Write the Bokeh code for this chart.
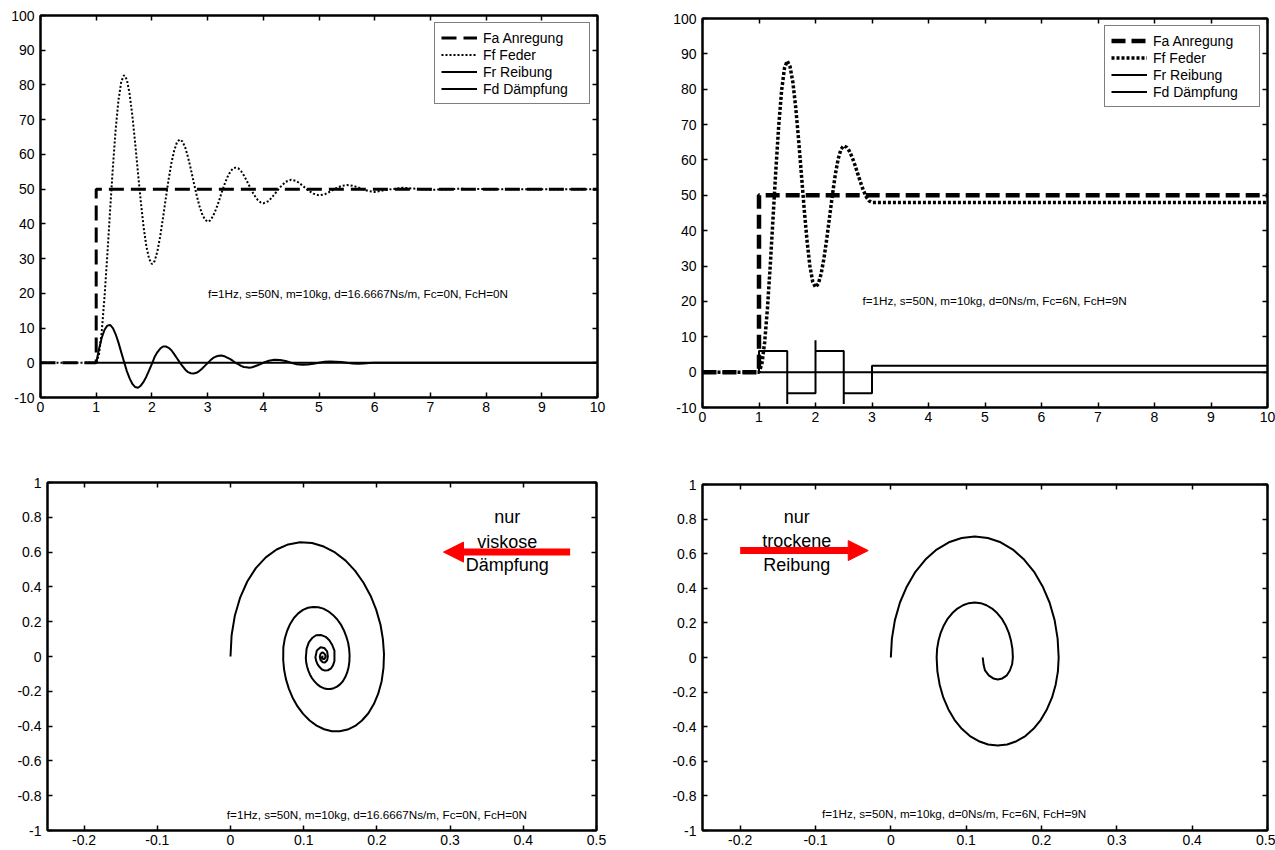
from bokeh.plotting import figure
from bokeh.layouts import column, row
from bokeh.models import (Range1d, FixedTicker, LinearAxis, Legend, LegendItem,
                          Label, Arrow, NormalHead, CustomJSTickFormatter)
from bokeh.embed import file_html
from bokeh.resources import INLINE

FONT = "Liberation Sans"

# ---------------- data: top-left (viscous damping) ----------------
tl_time = [0.0,
           1.00, 1.05, 1.10, 1.15, 1.20, 1.25, 1.30, 1.35, 1.40, 1.45, 1.50, 1.55, 1.60, 1.65, 1.70, 1.75, 1.80, 1.85, 1.90, 1.95,
           2.00, 2.05, 2.10, 2.15, 2.20, 2.25, 2.30, 2.35, 2.40, 2.45, 2.50, 2.55, 2.60, 2.65, 2.70, 2.75, 2.80, 2.85, 2.90, 2.95,
           3.00, 3.05, 3.10, 3.15, 3.20, 3.25, 3.30, 3.35, 3.40, 3.45, 3.50, 3.55, 3.60, 3.65, 3.70, 3.75, 3.80, 3.85, 3.90, 3.95,
           4.00, 4.1, 4.2, 4.3, 4.4, 4.5, 4.6, 4.7, 4.8, 4.9, 5.0, 5.1, 5.2, 5.3, 5.4, 5.5, 5.6, 5.7, 5.8, 5.9, 6.0,
           6.25, 6.5, 6.75, 7.0, 7.5, 8.0, 10.0]
tl_ff = [0.0,
         0.0, 2.4, 9.0, 19.1, 31.1, 44.0, 56.4, 67.3, 75.6, 81.0, 82.8, 81.6, 77.4, 71.0, 63.2, 54.7, 46.5, 39.2, 33.6, 29.9,
         28.4, 29.3, 32.2, 36.5, 41.8, 47.4, 52.8, 57.5, 61.1, 63.5, 64.3, 63.7, 61.9, 59.1, 55.7, 52.0, 48.5, 45.3, 42.9, 41.3,
         40.6, 41.0, 42.3, 44.2, 46.4, 48.9, 51.2, 53.3, 54.8, 55.9, 56.2, 56.0, 55.2, 54.0, 52.5, 50.9, 49.3, 48.0, 46.9, 46.2,
         45.9, 46.6, 48.5, 50.5, 52.1, 52.7, 52.3, 51.1, 49.7, 48.7, 48.2, 48.5, 49.3, 50.2, 50.9, 51.2, 51.0, 50.5, 49.9, 49.4, 49.2,
         49.9, 50.4, 50.1, 49.8, 50.1, 50.0, 50.0]
tl_fd = [0.0,
         0.0, 3.9, 7.2, 9.5, 10.7, 10.9, 10.0, 8.2, 5.8, 3.0, 0.3, -2.4, -4.5, -6.1, -7.0, -7.2, -6.6, -5.5, -4.0, -2.2,
         -0.3, 1.7, 3.1, 4.1, 4.7, 4.7, 4.3, 3.6, 2.5, 1.3, 0.1, -1.0, -2.0, -2.7, -3.0, -3.1, -2.9, -2.4, -1.7, -0.9,
         -0.1, 0.7, 1.4, 1.8, 2.0, 2.1, 1.9, 1.5, 1.1, 0.6, 0.0, -0.4, -0.9, -1.2, -1.3, -1.4, -1.3, -1.0, -0.7, -0.4,
         0.0, 0.6, 0.9, 0.8, 0.5, 0.0, -0.4, -0.6, -0.5, -0.3, 0.0, 0.3, 0.4, 0.3, 0.2, 0.0, -0.2, -0.3, -0.2, -0.1, 0.0,
         0.0, 0.0, 0.0, 0.0, 0.0, 0.0, 0.0]
tl_fa_time = [0, 1, 1, 10]
tl_fa = [0, 0, 50, 50]
tl_fr_time = [1, 10]
tl_fr = [0, 0]

# ---------------- data: top-right (dry friction) ----------------
tr_time = [0.0,
           1.00, 1.05, 1.10, 1.15, 1.20, 1.25, 1.30, 1.35, 1.40, 1.45, 1.50,
           1.55, 1.60, 1.65, 1.70, 1.75, 1.80, 1.85, 1.90, 1.95, 2.00,
           2.05, 2.10, 2.15, 2.20, 2.25, 2.30, 2.35, 2.40, 2.45, 2.50,
           2.55, 2.60, 2.65, 2.70, 2.75, 2.80, 2.85, 2.90, 2.95, 3.00,
           10.0]
tr_ff = [0.0,
         0.0, 2.2, 8.4, 18.1, 30.4, 44.0, 57.6, 69.9, 79.6, 85.9, 88.0,
         86.4, 81.9, 74.8, 65.9, 56.0, 46.1, 37.2, 30.1, 25.6, 24.0,
         25.0, 27.8, 32.2, 37.8, 44.0, 50.2, 55.8, 60.2, 63.0, 64.0,
         63.6, 62.5, 60.7, 58.5, 56.0, 53.5, 51.3, 49.5, 48.4, 48.0,
         48.0]
tr_fa_time = [0, 1, 1, 10]
tr_fa = [0, 0, 50, 50]
tr_fr_time = [1, 1, 1.5, 1.5, 1.5, 2.0, 2.0, 2.0, 2.5, 2.5, 2.5, 3.0, 3.0, 10]
tr_fr = [0, 6, 6, -9, -6, -6, 9, 6, 6, -9, -6, -6, 1.8, 1.8]
tr_fd_time = [1, 10]
tr_fd = [0, 0]

# ---------------- data: phase portraits (position, velocity) ----------------
bl_x = [0.0000, 0.0015, 0.0060, 0.0133, 0.0229, 0.0346, 0.0482, 0.0630, 0.0788, 0.0950, 0.1114, 0.1274, 0.1428, 0.1573,
        0.1703, 0.1817, 0.1915, 0.1991, 0.2050, 0.2082, 0.2097, 0.2090, 0.2065, 0.2018, 0.1960, 0.1884, 0.1796, 0.1703,
        0.1600, 0.1493, 0.1385, 0.1279, 0.1176, 0.1081, 0.0992, 0.0916, 0.0850, 0.0798, 0.0757, 0.0732, 0.0720,
        0.0722, 0.0742, 0.0774, 0.0815, 0.0866, 0.0925, 0.0990, 0.1058, 0.1129, 0.1200, 0.1269, 0.1336, 0.1399, 0.1456,
        0.1506, 0.1548, 0.1581, 0.1607, 0.1621, 0.1627, 0.1624, 0.1613, 0.1593, 0.1568, 0.1535, 0.1496, 0.1456, 0.1411,
        0.1365, 0.1318, 0.1272, 0.1227, 0.1186, 0.1147, 0.1114, 0.1085, 0.1063, 0.1045, 0.1034, 0.1029,
        0.104, 0.107, 0.112, 0.117, 0.124, 0.130, 0.135, 0.139, 0.142, 0.142, 0.142, 0.140, 0.137, 0.133, 0.129, 0.125,
        0.122, 0.119, 0.117, 0.116,
        0.118, 0.123, 0.128, 0.132, 0.133, 0.132, 0.129, 0.126, 0.123, 0.122,
        0.123, 0.125, 0.127, 0.129, 0.130, 0.129, 0.128, 0.126, 0.125, 0.125,
        0.127]
bl_v = [0.000, 0.122, 0.236, 0.340, 0.431, 0.508, 0.570, 0.615, 0.644, 0.656, 0.652, 0.632, 0.598, 0.551,
        0.492, 0.424, 0.348, 0.268, 0.181, 0.099, 0.015, -0.066, -0.142, -0.214, -0.272, -0.326, -0.368, -0.399,
        -0.420, -0.430, -0.430, -0.418, -0.397, -0.368, -0.330, -0.287, -0.238, -0.186, -0.130, -0.075, -0.020,
        0.053, 0.103, 0.148, 0.187, 0.221, 0.248, 0.268, 0.280, 0.285, 0.283, 0.275, 0.260, 0.239, 0.214,
        0.185, 0.151, 0.116, 0.079, 0.043, 0.007, -0.029, -0.062, -0.093, -0.118, -0.142, -0.160, -0.173, -0.182,
        -0.187, -0.187, -0.182, -0.173, -0.160, -0.143, -0.125, -0.103, -0.081, -0.056, -0.033, -0.008,
        0.045, 0.081, 0.108, 0.122, 0.123, 0.113, 0.093, 0.066, 0.034, 0.003, -0.027, -0.051, -0.070, -0.079, -0.081, -0.075,
        -0.062, -0.045, -0.025, -0.004,
        0.035, 0.053, 0.049, 0.029, 0.001, -0.022, -0.034, -0.033, -0.020, -0.002,
        0.015, 0.023, 0.021, 0.012, 0.001, -0.010, -0.015, -0.014, -0.008, -0.001,
        0.000]
br_x = [0.0000, 0.0014, 0.0054, 0.0121, 0.0213, 0.0326, 0.0459, 0.0608, 0.0770, 0.0940, 0.1114, 0.1288, 0.1458, 0.1620,
        0.1769, 0.1902, 0.2015, 0.2107, 0.2174, 0.2214, 0.2228,
        0.2218, 0.2188, 0.2140, 0.2073, 0.1991, 0.1894, 0.1786, 0.1668, 0.1545, 0.1418, 0.1291, 0.1168, 0.1050, 0.0942,
        0.0845, 0.0763, 0.0696, 0.0648, 0.0618, 0.0608,
        0.0614, 0.0633, 0.0663, 0.0705, 0.0756, 0.0817, 0.0884, 0.0958, 0.1035, 0.1114, 0.1193, 0.1270, 0.1344, 0.1411,
        0.1472, 0.1523, 0.1565, 0.1595, 0.1614, 0.1620,
        0.161, 0.158, 0.154, 0.148, 0.142, 0.136, 0.130, 0.125, 0.123, 0.122]
br_v = [0.000, 0.109, 0.216, 0.318, 0.411, 0.495, 0.566, 0.624, 0.666, 0.691, 0.700, 0.691, 0.666, 0.624,
        0.566, 0.495, 0.411, 0.318, 0.216, 0.109, 0.000,
        -0.080, -0.157, -0.231, -0.299, -0.360, -0.412, -0.454, -0.484, -0.503, -0.509, -0.503, -0.484, -0.454, -0.412,
        -0.360, -0.299, -0.231, -0.157, -0.080, 0.000,
        0.050, 0.098, 0.144, 0.187, 0.225, 0.257, 0.283, 0.302, 0.314, 0.318, 0.314, 0.302, 0.283, 0.257,
        0.225, 0.187, 0.144, 0.098, 0.050, 0.000,
        -0.039, -0.075, -0.103, -0.121, -0.127, -0.121, -0.103, -0.075, -0.039, 0.000]

time_ticks = [0, 1, 2, 3, 4, 5, 6, 7, 8, 9, 10]
force_ticks = [-10, 0, 10, 20, 30, 40, 50, 60, 70, 80, 90, 100]
pos_ticks = [-0.2, -0.1, 0, 0.1, 0.2, 0.3, 0.4, 0.5]
vel_ticks = [-1, -0.8, -0.6, -0.4, -0.2, 0, 0.2, 0.4, 0.6, 0.8, 1]

legend_labels = ["Fa Anregung", "Ff Feder", "Fr Reibung", "Fd Dämpfung"]
param_visc = "f=1Hz, s=50N, m=10kg, d=16.6667Ns/m, Fc=0N, FcH=0N"
param_dry = "f=1Hz, s=50N, m=10kg, d=0Ns/m, Fc=6N, FcH=9N"


def make_fig(width, height, xr, yr, xticks, yticks, bl, br, bt, bb):
    p = figure(width=width, height=height, x_range=Range1d(*xr), y_range=Range1d(*yr),
               output_backend="svg", toolbar_location=None, tools="",
               min_border_left=bl, min_border_right=br, min_border_top=bt, min_border_bottom=bb)
    p.xgrid.visible = False
    p.ygrid.visible = False
    p.outline_line_color = "black"
    p.outline_line_width = 2
    p.outline_line_alpha = 1
    p.background_fill_color = "white"
    p.border_fill_color = "white"
    p.add_layout(LinearAxis(), "above")
    p.add_layout(LinearAxis(), "right")
    fmt = CustomJSTickFormatter(code="return String(Math.round(tick*10)/10);")
    for ax in p.xaxis:
        ax.ticker = FixedTicker(ticks=xticks)
    for ax in p.yaxis:
        ax.ticker = FixedTicker(ticks=yticks)
    for ax in p.axis:
        ax.formatter = fmt
        ax.axis_line_color = "black"
        ax.axis_line_width = 2
        ax.major_tick_in = 5
        ax.major_tick_out = 0
        ax.major_tick_line_width = 1.5
        ax.major_tick_line_color = "black"
        ax.minor_tick_line_color = None
        ax.major_label_text_font = FONT
        ax.major_label_text_font_size = "14px"
        ax.major_label_text_color = "black"
    for ax in list(p.above) + list(p.right):
        ax.major_label_text_font_size = "0px"
        ax.major_label_text_color = None
        ax.major_label_standoff = 0
    p.below[0].major_label_standoff = 4
    p.left[0].major_label_standoff = 6
    return p


def add_legend(p, renderers):
    items = [LegendItem(label=lab, renderers=[r]) for lab, r in zip(legend_labels, renderers)]
    lg = Legend(items=items, location="top_right", margin=7,
                border_line_color="black", border_line_width=1.5,
                background_fill_color="white", background_fill_alpha=1,
                label_text_font=FONT, label_text_font_size="14px", label_text_color="black",
                glyph_width=36, glyph_height=17, label_height=17, label_width=100,
                label_standoff=6, spacing=0, padding=6)
    p.add_layout(lg)


def small_label(p, x, y, txt):
    p.add_layout(Label(x=x, y=y, text=txt, text_font=FONT, text_font_size="11.7px",
                       text_align="center", text_baseline="middle", text_color="black"))


def big_labels(p, x, ys, words):
    for y, w in zip(ys, words):
        p.add_layout(Label(x=x, y=y, text=w, text_font=FONT, text_font_size="18px",
                           text_align="center", text_baseline="middle", text_color="black"))


# ---------------- top-left ----------------
p1 = make_fig(660, 440, (0, 10), (-10, 100), time_ticks, force_ticks, 40, 63, 15, 43)
r_fr = p1.line(tl_fr_time, tl_fr, line_color="black", line_width=2.2)
r_fd = p1.line(tl_time[1:], tl_fd[1:], line_color="black", line_width=2)
r_ff = p1.line(tl_time, tl_ff, line_color="black", line_width=2, line_dash="2 2")
r_fa = p1.line(tl_fa_time, tl_fa, line_color="black", line_width=3, line_dash="15 7")
add_legend(p1, [r_fa, r_ff, r_fr, r_fd])
small_label(p1, 5.7, 20, param_visc)

# ---------------- top-right ----------------
p2 = make_fig(615, 440, (0, 10), (-10, 100), time_ticks, force_ticks, 42, 8, 18, 33)
s_fd = p2.line(tr_fd_time, tr_fd, line_color="black", line_width=2)
s_fr = p2.line(tr_fr_time, tr_fr, line_color="black", line_width=2)
s_ff = p2.line(tr_time, tr_ff, line_color="black", line_width=3.5, line_dash="3 2")
s_fa = p2.line(tr_fa_time, tr_fa, line_color="black", line_width=4.5, line_dash="14 6")
add_legend(p2, [s_fa, s_ff, s_fr, s_fd])
small_label(p2, 5.17, 20.3, param_dry)

# ---------------- bottom-left ----------------
p3 = make_fig(660, 410, (-0.25, 0.5), (-1, 1), pos_ticks, vel_ticks, 47, 64, 42, 20)
p3.line(bl_x, bl_v, line_color="black", line_width=2)
small_label(p3, 0.2, -0.91, param_visc)
big_labels(p3, 0.378, [0.80, 0.657, 0.526], ["nur", "viskose", "Dämpfung"])
p3.add_layout(Arrow(end=NormalHead(size=20, fill_color="red", line_color="red"),
                    x_start=0.464, y_start=0.60, x_end=0.291, y_end=0.60,
                    line_color="red", line_width=7))

# ---------------- bottom-right ----------------
p4 = make_fig(615, 410, (-0.25, 0.5), (-1, 1), pos_ticks, vel_ticks, 42, 8, 44, 20)
p4.line(br_x, br_v, line_color="black", line_width=2)
small_label(p4, 0.084, -0.9, param_dry)
big_labels(p4, -0.125, [0.815, 0.676, 0.532], ["nur", "trockene", "Reibung"])
p4.add_layout(Arrow(end=NormalHead(size=20, fill_color="red", line_color="red"),
                    x_start=-0.2, y_start=0.618, x_end=-0.03, y_end=0.618,
                    line_color="red", line_width=7))

# each figure wrapped in its own column so that frames are not aligned across panels
layout = column(row(column(p1), column(p2)), row(column(p3), column(p4)))
open("out.html", "w").write(file_html(layout, INLINE))
